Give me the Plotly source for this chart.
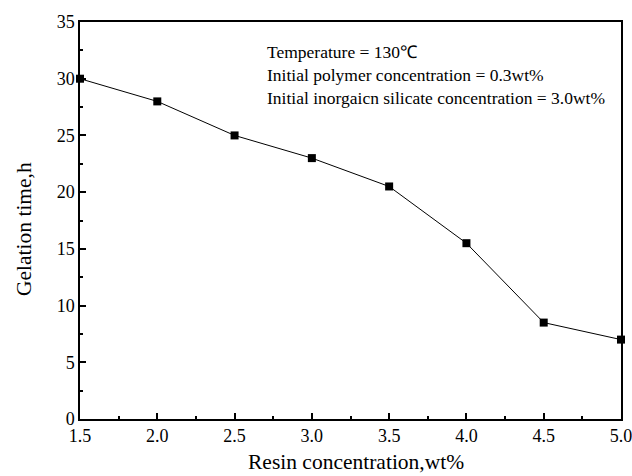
import plotly.graph_objects as go

resin = [1.5, 2.0, 2.5, 3.0, 3.5, 4.0, 4.5, 5.0]
gel_time = [30, 28, 25, 23, 20.5, 15.5, 8.5, 7]
x_ticks = [1.5, 2.0, 2.5, 3.0, 3.5, 4.0, 4.5, 5.0]
x_tick_labels = ["1.5", "2.0", "2.5", "3.0", "3.5", "4.0", "4.5", "5.0"]
x_title = "Resin concentration,wt%"
y_title = "Gelation time,h"
notes = ["Temperature = 130\u2103",
         "Initial polymer concentration = 0.3wt%",
         "Initial inorgaicn silicate concentration = 3.0wt%"]

font = "Liberation Serif, Times New Roman, serif"

fig = go.Figure()
fig.add_trace(go.Scatter(
    x=resin, y=gel_time, mode="lines+markers",
    line=dict(color="black", width=1),
    marker=dict(symbol="square", size=8, color="black"),
    cliponaxis=False, showlegend=False))

fig.add_annotation(
    x=0.342, y=0.955, xref="paper", yref="paper",
    xanchor="left", yanchor="top", align="left", showarrow=False,
    text="<br>".join(notes),
    font=dict(family=font, size=17.5, color="black"))

# axis titles placed as annotations for exact positioning
fig.add_annotation(
    x=0.510, y=-0.108, xref="paper", yref="paper",
    xanchor="center", yanchor="middle", showarrow=False,
    text=x_title, font=dict(family=font, size=21.5, color="black"))
fig.add_annotation(
    x=-0.1035, y=0.4786, xref="paper", yref="paper",
    xanchor="center", yanchor="middle", showarrow=False, textangle=-90,
    text=y_title, font=dict(family=font, size=21.5, color="black"))

axis_common = dict(
    showgrid=False, zeroline=False, showline=True, linecolor="black",
    linewidth=1.5, mirror=True, ticks="inside", ticklen=6, tickwidth=1.5,
    tickcolor="black", tickfont=dict(family=font, size=18, color="black"),
    automargin=False, ticklabeloverflow="allow")

fig.update_xaxes(
    range=[1.5, 5.0], tickvals=x_ticks, ticktext=x_tick_labels,
    minor=dict(ticks="inside", ticklen=3, tickwidth=1.5, tickcolor="black", dtick=0.25, tick0=1.5),
    **axis_common)
fig.update_yaxes(
    range=[0, 35], dtick=5, tick0=0,
    minor=dict(ticks="inside", ticklen=3, tickwidth=1.5, tickcolor="black", dtick=2.5, tick0=0),
    **axis_common)

fig.update_layout(
    width=632, height=476,
    margin=dict(l=80, r=11, t=22, b=57),
    paper_bgcolor="white", plot_bgcolor="white")

fig.write_html("out.html")
